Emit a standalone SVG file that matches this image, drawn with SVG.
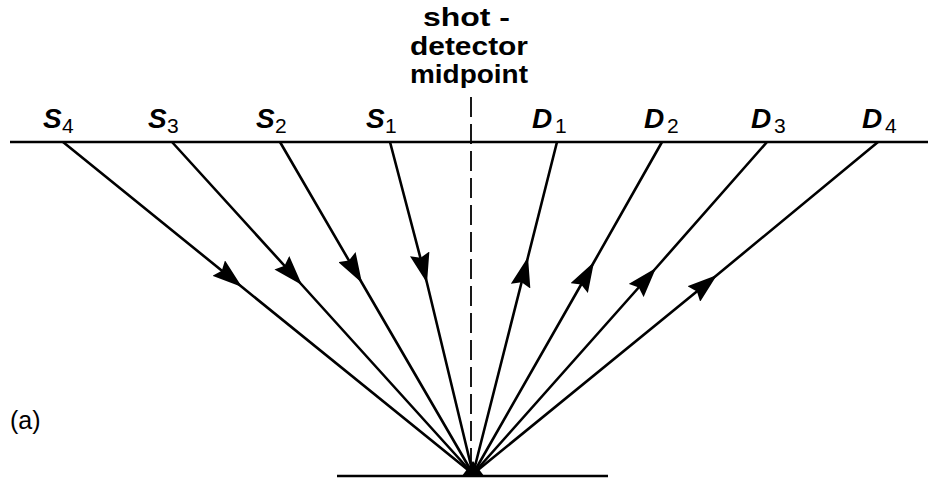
<svg xmlns="http://www.w3.org/2000/svg" width="928" height="480" viewBox="0 0 928 480">
  <style>
    .ray { fill: none; stroke: #000; stroke-width: 2.6; marker-mid: url(#ah); }
    .lbl { font-family: "Liberation Sans", Arial, sans-serif; font-weight: bold; font-style: italic; font-size: 28px; fill: #000; }
    .sub { font-family: "Liberation Sans", Arial, sans-serif; font-size: 21px; fill: #000; }
    .hdr { font-family: "Liberation Sans", Arial, sans-serif; font-weight: bold; font-size: 25px; fill: #000; }
    .tag { font-family: "Liberation Sans", Arial, sans-serif; font-size: 25px; fill: #000; }
  </style>
  <defs>
    <marker id="ah" markerUnits="userSpaceOnUse" viewBox="0 0 30 20" refX="30" refY="10" markerWidth="30" markerHeight="20" orient="auto">
      <path d="M0,0 L30,10 L0,20 L4,10 z" fill="#000"/>
    </marker>
  </defs>
  <rect width="928" height="480" fill="#fff"/>

  <g id="surface">
    <line x1="10" y1="142" x2="928" y2="142" stroke="#000" stroke-width="2.6"/>
  </g>
  <g id="reflector">
    <line x1="337" y1="476" x2="608" y2="476" stroke="#000" stroke-width="2.6"/>
    <path d="M462,476 L484,476 L473,461 z" fill="#000"/>
  </g>

  <g id="midpoint">
    <line x1="471" y1="97" x2="471" y2="470" stroke="#000" stroke-width="1.8" stroke-dasharray="20 7"/>
    <text class="hdr" x="466.5" y="26" text-anchor="middle" textLength="87" lengthAdjust="spacingAndGlyphs">shot -</text>
    <text class="hdr" x="469" y="55" text-anchor="middle" textLength="118" lengthAdjust="spacingAndGlyphs">detector</text>
    <text class="hdr" x="469" y="83" text-anchor="middle" textLength="118" lengthAdjust="spacingAndGlyphs">midpoint</text>
  </g>

  <g id="connectors">
    <polyline class="ray" points="63,142 242,287 473,474"/>
    <polyline class="ray" points="172,142 302,285 473,474"/>
    <polyline class="ray" points="280,142 362,283 473,474"/>
    <polyline class="ray" points="390,142 427,283 473,474"/>
    <polyline class="ray" points="473,474 528,257 557,142"/>
    <polyline class="ray" points="473,474 594,262 662,142"/>
    <polyline class="ray" points="473,474 656,268 767,142"/>
    <polyline class="ray" points="473,474 717,275 878,142"/>
  </g>

  <g id="S4"><text class="lbl" x="43" y="128">S</text><text class="sub" x="62" y="133">4</text></g>
  <g id="S3"><text class="lbl" x="148" y="128">S</text><text class="sub" x="167" y="133">3</text></g>
  <g id="S2"><text class="lbl" x="256" y="128">S</text><text class="sub" x="275" y="133">2</text></g>
  <g id="S1"><text class="lbl" x="366" y="128">S</text><text class="sub" x="385" y="133">1</text></g>
  <g id="D1"><text class="lbl" x="532" y="128">D</text><text class="sub" x="555" y="133">1</text></g>
  <g id="D2"><text class="lbl" x="644" y="128">D</text><text class="sub" x="667" y="133">2</text></g>
  <g id="D3"><text class="lbl" x="751" y="128">D</text><text class="sub" x="774" y="133">3</text></g>
  <g id="D4"><text class="lbl" x="862" y="128">D</text><text class="sub" x="885" y="133">4</text></g>

  <g id="label-a">
    <text class="tag" x="10" y="429">(a)</text>
  </g>
</svg>
